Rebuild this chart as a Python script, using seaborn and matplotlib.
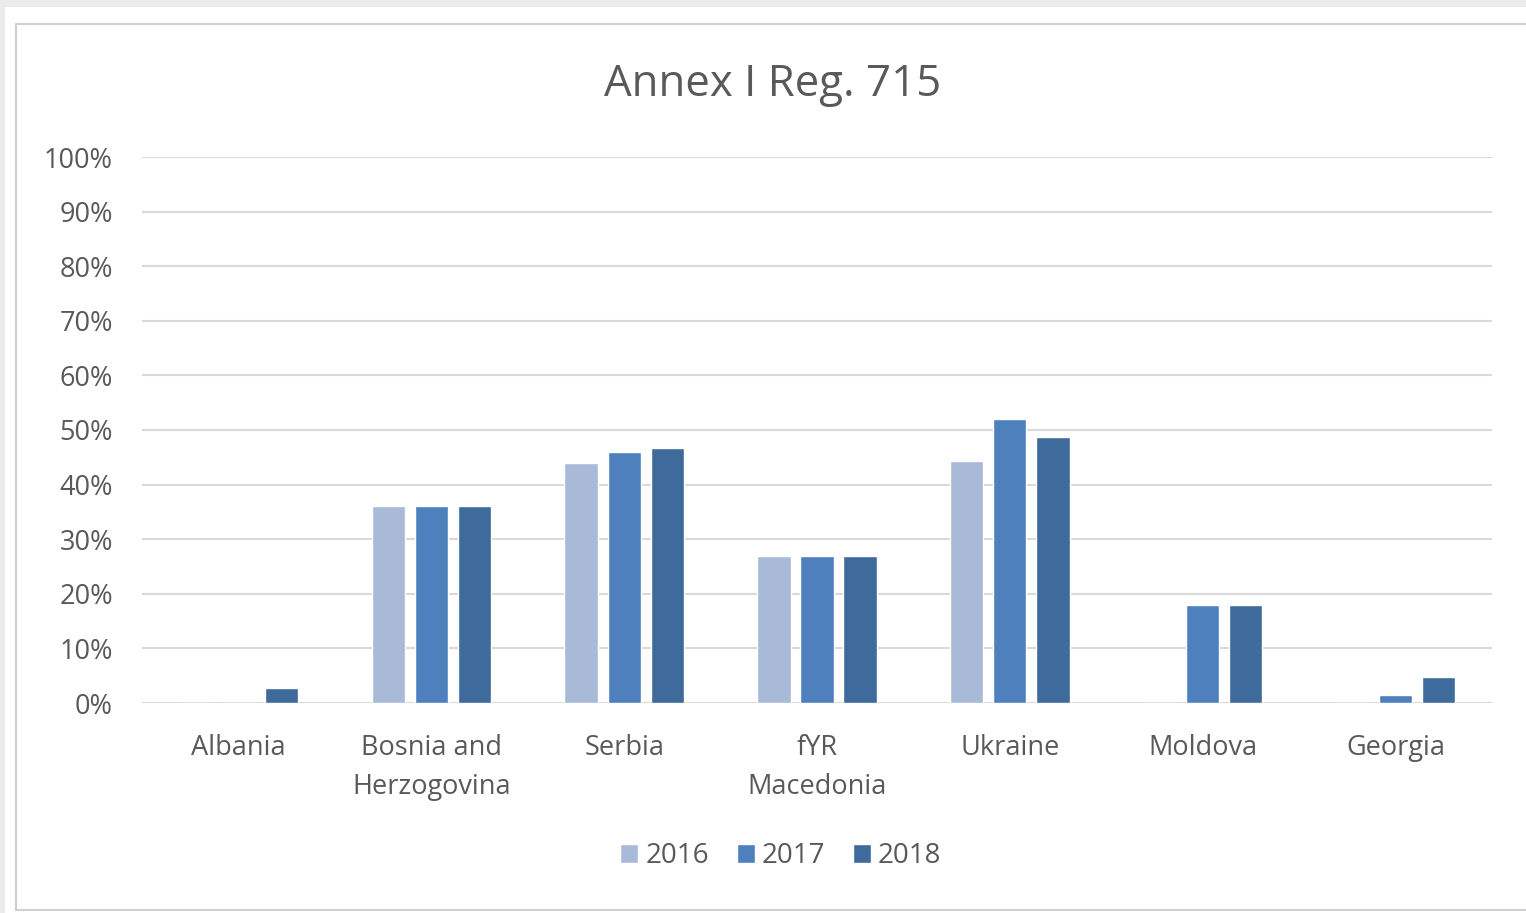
import numpy as np
import pandas as pd
import matplotlib.pyplot as plt
import seaborn as sns
from matplotlib.patches import Rectangle
from matplotlib.ticker import PercentFormatter

# data (share, 0..1)
countries = ["Albania", "Bosnia and\nHerzogovina", "Serbia", "fYR\nMacedonia",
             "Ukraine", "Moldova", "Georgia"]
years = ["2016", "2017", "2018"]
v2016 = [0.00, 0.36, 0.44, 0.27, 0.443, 0.00, 0.00]
v2017 = [0.00, 0.36, 0.46, 0.27, 0.52, 0.18, 0.015]
v2018 = [0.027, 0.36, 0.467, 0.27, 0.487, 0.18, 0.048]
colors = ["#A9B9D8", "#4E80BD", "#3E6A9C"]

df = pd.DataFrame({
    "country": countries * 3,
    "year": [y for y in years for _ in countries],
    "value": v2016 + v2017 + v2018,
})

sns.set_theme(style="white")
plt.rcParams["font.family"] = ["Open Sans", "DejaVu Sans"]
txt = "#595959"

fig = plt.figure(figsize=(15.26, 9.13), dpi=100, facecolor="#ebebeb")
W, H = 1526, 913
fig.patches.append(Rectangle((5 / W, 0), 1, 1 - 7 / H, transform=fig.transFigure,
                             facecolor="white", edgecolor="none", zorder=-2))
fig.patches.append(Rectangle((16 / W, 1 - 910 / H), 1, (910 - 24) / H,
                             transform=fig.transFigure, facecolor="white",
                             edgecolor="#d0d0d0", lw=1.5, zorder=-1))

ax = fig.add_axes([142 / W, 1 - 703 / H, (1492 - 142) / W, (703 - 157) / H])
ax.set_facecolor("none")

sns.barplot(data=df, x="country", y="value", hue="year", palette=colors,
            width=0.67, gap=0.23, ax=ax, saturation=1, zorder=3)

ax.set_ylim(0, 1)
ax.set_xlim(-0.5, len(countries) - 0.5)
ax.set_yticks(np.arange(0, 1.01, 0.1))
ax.yaxis.set_major_formatter(PercentFormatter(1, decimals=0))
ax.grid(axis="y", color="#d9d9d9", lw=1.5, zorder=0)
for s in ax.spines.values():
    s.set_visible(False)
ax.tick_params(axis="y", length=0, colors=txt, labelsize=19.5, pad=21)
ax.tick_params(axis="x", length=0, colors=txt, labelsize=19.5, pad=22)
for lab in ax.get_xticklabels():
    lab.set_linespacing(1.55)
ax.set_xlabel("")
ax.set_ylabel("")

fig.text(773 / W, 1 - 85 / H, "Annex I Reg. 715", ha="center", va="center",
         fontsize=31.5, color=txt)

leg = ax.legend(loc="center", bbox_to_anchor=(781 / W, 1 - 856 / H),
                bbox_transform=fig.transFigure, ncol=3, frameon=False,
                fontsize=20, handlelength=0.65, handleheight=0.65,
                handletextpad=0.25, columnspacing=1.0)
for t in leg.get_texts():
    t.set_color(txt)

fig.savefig("out.png", dpi=100, facecolor=fig.get_facecolor())
